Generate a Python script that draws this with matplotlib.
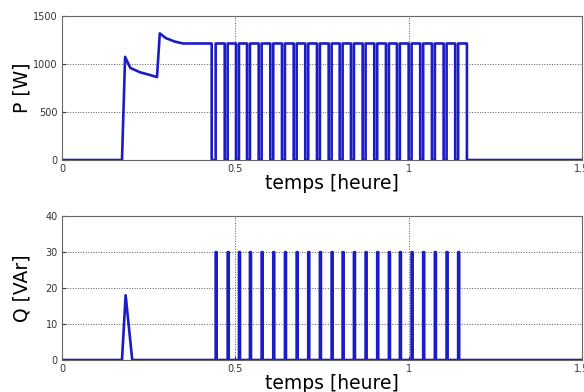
import numpy as np
import matplotlib
matplotlib.use("Agg")
import matplotlib.pyplot as plt

# start-up part of P (temps [heure], P [W])
p_start_t = [0.0, 0.173, 0.182, 0.197, 0.225, 0.255, 0.274, 0.282, 0.300, 0.325, 0.349]
p_start_v = [0, 0, 1075, 960, 915, 885, 865, 1320, 1270, 1235, 1215]
p_high = 1215

# switching instants of the load
p_on_t = [0.4432, 0.4778, 0.5104, 0.5421, 0.5758, 0.6093, 0.6430, 0.6768, 0.7102, 0.7439, 0.7777,
          0.8094, 0.8420, 0.8757, 0.9092, 0.9429, 0.9746, 1.0084, 1.0418, 1.0755, 1.1093, 1.1427]
p_off_t = [0.4317, 0.4693, 0.5019, 0.5336, 0.5673, 0.6008, 0.6345, 0.6683, 0.7017, 0.7354, 0.7692,
           0.8009, 0.8335, 0.8672, 0.9007, 0.9344, 0.9661, 0.9999, 1.0333, 1.0670, 1.1008, 1.1342, 1.1680]

# reactive power
q_start_t = [0.0, 0.173, 0.1835, 0.2026]
q_start_v = [0, 0, 18, 0]
q_spike = 30
q_spike_width = 0.003

t_end = 1.5
xticks = [0, 0.5, 1, 1.5]
xticklabels = ["0", "0.5", "1", "1.5"]

# build the P step signal
pt = list(p_start_t)
pv = list(p_start_v)
for i, toff in enumerate(p_off_t):
    pt += [toff, toff]
    pv += [p_high, 0]
    if i < len(p_on_t):
        pt += [p_on_t[i], p_on_t[i]]
        pv += [0, p_high]
pt.append(t_end)
pv.append(0)

# build Q signal
qt = list(q_start_t)
qv = list(q_start_v)
for ton in p_on_t:
    qt += [ton, ton, ton + q_spike_width, ton + q_spike_width]
    qv += [0, q_spike, q_spike, 0]
qt.append(t_end)
qv.append(0)

col = '#1c1cc4'
fig = plt.figure(figsize=(5.84, 3.92), dpi=100)
ax1 = fig.add_axes([0.1062, 0.5918, 0.8904, 0.367])
ax2 = fig.add_axes([0.1062, 0.0816, 0.8904, 0.367])

for ax, x, y, yl, ylab, yt in [(ax1, pt, pv, 1500, 'P [W]', [0, 500, 1000, 1500]),
                               (ax2, qt, qv, 40, 'Q [VAr]', [0, 10, 20, 30, 40])]:
    ax.plot(x, y, color=col, linewidth=1.9)
    ax.set_xlim(0, t_end)
    ax.set_ylim(0, yl)
    ax.set_xticks(xticks)
    ax.set_xticklabels(xticklabels)
    ax.set_yticks(yt)
    ax.grid(True, linestyle=':', color='#555555', linewidth=0.7)
    ax.tick_params(direction='in', labelsize=7, colors='#333333', length=3, pad=3)
    for s in ax.spines.values():
        s.set_color('#666666')
        s.set_linewidth(0.8)
    ax.set_xlabel('temps [heure]', fontsize=13.5)
    ax.set_ylabel(ylab, fontsize=13.5)
    ax.xaxis.set_label_coords(0.52, -0.095)
    ax.yaxis.set_label_coords(-0.058, 0.5)

fig.savefig('out.png', dpi=100)
